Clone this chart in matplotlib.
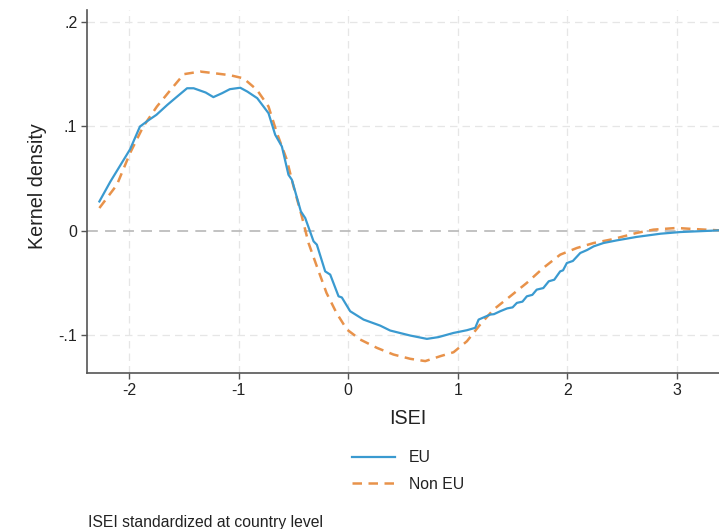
import matplotlib
matplotlib.use("Agg")
import matplotlib.pyplot as plt

plt.rcParams['font.family'] = ['Liberation Sans', 'DejaVu Sans']

# Kernel density difference curves (ISEI standardized at country level)
eu_x = [-2.27, -2.17, -1.99, -1.90, -1.82, -1.75, -1.65, -1.56, -1.47, -1.41,
        -1.30, -1.23, -1.15, -1.08, -0.985, -0.92, -0.83, -0.727, -0.666, -0.605,
        -0.545, -0.514, -0.432, -0.392, -0.316, -0.286, -0.21, -0.164, -0.088, -0.058,
        0.018, 0.14, 0.292, 0.383, 0.566, 0.718, 0.824, 0.961, 1.083,
        1.159, 1.19, 1.296, 1.33, 1.387, 1.45, 1.50, 1.539, 1.59, 1.63, 1.68, 1.72,
        1.78, 1.83, 1.88, 1.934, 1.96, 1.995, 2.05, 2.117, 2.18, 2.24, 2.33, 2.45,
        2.63, 2.85, 3.03, 3.385]
eu_y = [0.028, 0.047, 0.078, 0.0998, 0.106, 0.111, 0.1206, 0.1286, 0.1365, 0.1365,
        0.1324, 0.128, 0.1318, 0.1356, 0.137, 0.1333, 0.127, 0.1126, 0.0919, 0.0807,
        0.0536, 0.0488, 0.0185, 0.0121, -0.0102, -0.0134, -0.039, -0.0421, -0.0629, -0.064,
        -0.0772, -0.0852, -0.091, -0.0957, -0.1005, -0.1037, -0.102, -0.098, -0.0954,
        -0.0931, -0.0852, -0.0804, -0.0800, -0.0772, -0.0745, -0.0735, -0.0692, -0.0680, -0.0629, -0.0615, -0.0565,
        -0.0550, -0.0485, -0.0470, -0.039, -0.0380, -0.031, -0.0290, -0.0214, -0.0185, -0.015, -0.0118, -0.0093,
        -0.006, -0.0029, -0.0013, 0.0003]

noneu_x = [-2.27, -2.11, -1.99, -1.87, -1.745, -1.62, -1.50, -1.35, -1.229, -1.077,
           -0.955, -0.833, -0.727, -0.65, -0.56, -0.499, -0.423, -0.362, -0.286, -0.198,
           -0.107, -0.012, 0.109, 0.262, 0.413, 0.566, 0.703, 0.84, 0.961, 1.083, 1.204,
           1.326, 1.478, 1.63, 1.78, 1.934, 2.086, 2.24, 2.42, 2.63, 2.785,
           2.997, 3.15, 3.385]
noneu_y = [0.0217, 0.044, 0.0744, 0.0998, 0.119, 0.135, 0.150, 0.1525, 0.151, 0.149,
           0.146, 0.135, 0.119, 0.0935, 0.068, 0.0424, 0.0137, -0.0118, -0.0342, -0.0596,
           -0.0788, -0.0947, -0.1043, -0.1123, -0.1187, -0.1228, -0.125, -0.1203, -0.1165, -0.106, -0.090,
           -0.0756, -0.0629, -0.050, -0.0357, -0.023, -0.0166, -0.0118, -0.008, -0.0022, 0.001,
           0.0026, 0.0016, 0.0003]

x_ticks = [-2, -1, 0, 1, 2, 3]
x_ticklabels = ["-2", "-1", "0", "1", "2", "3"]
y_ticks = [-0.1, 0.0, 0.1, 0.2]
y_ticklabels = ["-.1", "0", ".1", ".2"]

blue = "#3a9ad0"
orange = "#e8924a"

fig = plt.figure(figsize=(7.19, 5.29), dpi=100)
ax = fig.add_axes([87 / 719, 156 / 529, (719 - 87) / 719, (373 - 10) / 529])

ax.set_xlim(-2.383, 3.383)
ax.set_ylim(-0.1364, 0.2115)

# grid
for xv in x_ticks:
    ax.axvline(xv, color="#e6e6e6", lw=0.9, ls=(0, (6, 4)), zorder=0)
for yv in y_ticks:
    if yv == 0:
        ax.axhline(yv, color="#bdbdbd", lw=1.3, ls=(0, (6, 4)), zorder=0.5)
    else:
        ax.axhline(yv, color="#e6e6e6", lw=0.9, ls=(0, (6, 4)), zorder=0)

ax.plot(eu_x, eu_y, color=blue, lw=1.6, label="EU", zorder=3)
ax.plot(noneu_x, noneu_y, color=orange, lw=1.8, ls=(0, (3.8, 2.6)), label="Non EU", zorder=2)

ax.set_xticks(x_ticks)
ax.set_xticklabels(x_ticklabels)
ax.set_yticks(y_ticks)
ax.set_yticklabels(y_ticklabels)
ax.tick_params(axis="both", length=4, width=1, color="#555555", labelsize=11.5,
               labelcolor="#222222", pad=3)

for side in ("top", "right"):
    ax.spines[side].set_visible(False)
for side in ("left", "bottom"):
    ax.spines[side].set_color("#555555")
    ax.spines[side].set_linewidth(1.2)

fig.text(37.5 / 719, 1 - 186 / 529, "Kernel density", rotation=90, ha="center", va="center",
         fontsize=14.2, color="#222222")
fig.text(407.5 / 719, 1 - 419 / 529, "ISEI", ha="center", va="center", fontsize=14.2, color="#222222")

leg = fig.legend(loc="center", bbox_to_anchor=(408 / 719, 1 - 471 / 529), frameon=False,
                 fontsize=11.3, handlelength=2.75, labelspacing=0.75, handletextpad=0.9)
for t in leg.get_texts():
    t.set_color("#222222")

fig.text(88 / 719, 1 - 522 / 529, "ISEI standardized at country level", ha="left", va="center",
         fontsize=11.3, color="#222222")

fig.savefig("out.png", dpi=100)
